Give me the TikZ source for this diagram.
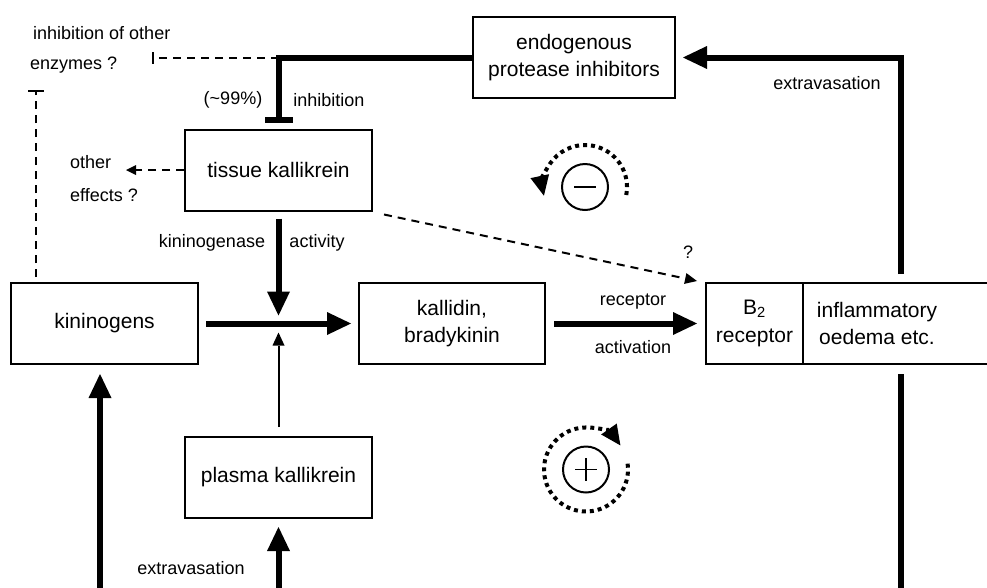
\documentclass[tikz,border=0pt]{standalone}
\usepackage{fontspec}
\setmainfont{Liberation Sans}
\usetikzlibrary{arrows.meta}
\begin{document}
\begin{tikzpicture}[x=1pt,y=-1pt,
  box/.style={draw,line width=2pt,inner sep=0pt,minimum height=81pt,align=center,font=\fontsize{21}{27.5}\selectfont},
  boxtext/.style={inner sep=0pt,align=center,font=\fontsize{21}{27.5}\selectfont},
  lbl/.style={inner sep=0pt,font=\fontsize{18}{22}\selectfont},
  thickline/.style={line width=6pt},
  thickarrow/.style={line width=6pt,-{Triangle[length=24pt,width=23pt,line width=0pt]}},
  thinarrow/.style={line width=2pt,-{Triangle[length=13pt,width=12pt,line width=0pt]}},
  dashline/.style={line width=2pt,dash pattern=on 8pt off 6pt},
  dotline/.style={line width=4pt,dash pattern=on 4pt off 4pt},
  looptip/.style={-{Triangle[length=20pt,width=19pt,line width=0pt]}}]
\useasboundingbox (0,0) rectangle (987,587);
\clip (0,0) rectangle (987,587);

% boxes
\node[box,minimum width=202pt] (epi) at (574,57.5) {endogenous\\protease inhibitors};
\node[box,minimum width=187pt] (tk) at (278.5,170) {tissue kallikrein};
\node[box,minimum width=187pt] (kin) at (104.5,323.5) {kininogens};
\node[box,minimum width=186pt] (kb) at (452,323.5) {kallidin,\\bradykinin};
\node[box,minimum width=97pt] (b2) at (754.5,323.5) {B\textsubscript{2}\\receptor};
\node[box,minimum width=192pt] (inf) at (899,323.5) {};
\node[boxtext] (inftxt) at (877,323.5) {inflammatory\\oedema etc.};
\node[box,minimum width=187pt] (pk) at (278.5,477.5) {plasma kallikrein};

% coordinates
\coordinate (corner) at (tk.north |- epi.west);
\coordinate (ie1) at (152,57.5);
\coordinate (ie2) at (36,90);
\coordinate (ie2b) at (kin.north -| ie2);
\coordinate (oe) at (126,170);
\coordinate (j) at (278.5,323.5);
\coordinate (bk) at (100,600);
\coordinate (bp) at (278.5,600);
\coordinate (bi) at (901,600);

% negative feedback loop
\draw[thickarrow,shorten >=7pt] ([xshift=2pt,yshift=8pt]inf.north) |- (epi.east);
\draw[thickline,-{Bar[width=28pt]}] (epi.west) -| ([yshift=6pt]tk.north);
\draw[dashline,-{Bar[width=12pt]}] (corner) -- (ie1);
\draw[dashline,-{Bar[width=16pt]}] ([yshift=5pt]ie2b) -- (ie2);
\draw[dashline,-{Triangle[length=10pt,width=10pt,line width=0pt]}] (tk.west) -- (oe);

% main pathway
\draw[thickarrow,shorten <=7pt,shorten >=8pt] (tk.south) -- (j);
\draw[thinarrow,shorten <=9pt,shorten >=9pt] (pk.north) -- (j);
\draw[thickarrow,shorten <=7pt,shorten >=7pt] (kin.east) -- (kb.west);
\draw[thickarrow,shorten <=8pt,shorten >=8pt] (kb.east) -- (b2.west);
\draw[dashline,-{Triangle[length=12pt,width=11pt,line width=0pt]}] ([xshift=11pt,yshift=-3pt]tk.south east) -- ([xshift=-8pt,yshift=1pt]b2.north west);

% bottom
\draw[thickarrow,shorten >=9pt] (bk) -- (bk |- kin.south);
\draw[thickarrow,shorten >=8pt] (bp) -- (pk.south);
\draw[thickline,shorten >=9pt] (bi) -- (bi |- inf.south);

% labels
\node[lbl,anchor=west] (l1) at (33,33) {inhibition of other};
\node[lbl,anchor=west] (l2) at (30,65) {enzymes ?};
\node[lbl] (l3) at (233,100) {(\textasciitilde 99\%)};
\node[lbl] (l4) at (329,100) {inhibition};
\node[lbl,anchor=west] (l5) at (70,162) {other};
\node[lbl,anchor=west] (l6) at (70,195) {effects ?};
\node[lbl] (l7) at (212,243) {kininogenase};
\node[lbl] (l8) at (317,243) {activity};
\node[lbl] (l9) at (633,302) {receptor};
\node[lbl] (l10) at (633,347) {activation};
\node[lbl] (l11) at (688,252) {?};
\node[lbl] (l12) at (827,83) {extravasation};
\node[lbl] (l13) at (191,568) {extravasation};

% feedback symbols
\draw[line width=2pt] (585,187) circle[radius=23];
\draw[line width=1.6pt] (574,187) -- (596,187);
\draw[dotline,looptip] (585,187) ++(11:42) arc[start angle=11,end angle=-192,radius=42];

\draw[line width=2pt] (586,469.5) circle[radius=23];
\draw[line width=1.6pt] (575,469.5) -- (597,469.5);
\draw[line width=1.6pt] (586,458) -- (586,481);
\draw[dotline,looptip] (586,469.5) ++(-8:42) arc[start angle=-8,end angle=325,radius=42];
\end{tikzpicture}
\end{document}
